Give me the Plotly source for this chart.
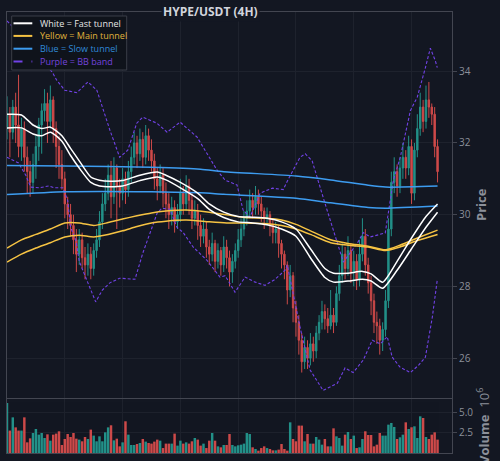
import plotly.graph_objects as go

# ---------------- data ----------------
idx = list(range(150))
opens = [32.4, 32.8, 32.3, 33.0, 32.5, 31.9, 32.4, 31.6, 31.2, 30.9,
         31.4, 31.9, 32.5, 32.9, 33.1, 32.6, 33.2, 32.4, 31.9, 31.4,
         31.0, 30.3, 30.0, 29.7, 29.3, 28.9, 29.3, 28.8, 28.6, 28.9,
         28.5, 29.0, 29.3, 29.8, 30.3, 30.6, 31.1, 30.5, 31.3, 30.8,
         30.6, 31.0, 30.7, 31.2, 31.6, 32.0, 31.7, 32.1, 31.6, 32.2,
         31.8, 31.5, 31.0, 30.8, 31.1, 30.6, 30.3, 30.0, 30.2, 29.8,
         30.0, 30.6, 30.3, 30.8, 30.4, 29.9, 30.1, 29.7, 29.4, 29.6,
         29.1, 28.9, 29.2, 28.7, 29.0, 28.6, 29.1, 28.8, 28.4, 28.7,
         29.0, 29.3, 29.6, 29.9, 30.1, 30.4, 30.2, 30.5, 30.3, 30.1,
         29.9, 30.0, 29.7, 29.5, 29.6, 29.2, 28.9, 28.6, 27.9, 28.3,
         27.4, 27.0, 26.5, 25.9, 26.3, 26.0, 26.4, 26.2, 26.7, 27.0,
         27.3, 27.1, 26.9, 27.2, 27.0, 27.8, 28.3, 28.9, 28.5, 29.0,
         28.4, 28.7, 28.2, 28.9, 29.4, 28.6, 28.1, 27.6, 27.0, 26.9,
         26.5, 26.8, 27.6, 29.6, 30.9, 31.2, 30.8, 31.3, 31.6, 31.3,
         31.9, 30.6, 31.8, 32.4, 33.0, 32.6, 33.2, 33.0, 32.8, 31.9]
closes = [32.8, 32.3, 33.0, 32.5, 31.9, 32.4, 31.6, 31.2, 30.9, 31.4,
          31.9, 32.5, 32.9, 33.1, 32.6, 33.2, 32.4, 31.9, 31.4, 31.0,
          30.3, 30.0, 29.7, 29.3, 28.9, 29.3, 28.8, 28.6, 28.9, 28.5,
          29.0, 29.3, 29.8, 30.3, 30.6, 31.1, 30.5, 31.3, 30.8, 30.6,
          31.0, 30.7, 31.2, 31.6, 32.0, 31.7, 32.1, 31.6, 32.2, 31.8,
          31.5, 31.0, 30.8, 31.1, 30.6, 30.3, 30.0, 30.2, 29.8, 30.0,
          30.6, 30.3, 30.8, 30.4, 29.9, 30.1, 29.7, 29.4, 29.6, 29.1,
          28.9, 29.2, 28.7, 29.0, 28.6, 29.1, 28.8, 28.4, 28.7, 29.0,
          29.3, 29.6, 29.9, 30.1, 30.4, 30.2, 30.5, 30.3, 30.1, 29.9,
          30.0, 29.7, 29.5, 29.6, 29.2, 28.9, 28.6, 27.9, 28.3, 27.4,
          27.0, 26.5, 25.9, 26.3, 26.0, 26.4, 26.2, 26.7, 27.0, 27.3,
          27.1, 26.9, 27.2, 27.0, 27.8, 28.3, 28.9, 28.5, 29.0, 28.4,
          28.7, 28.2, 28.9, 29.4, 28.6, 28.1, 27.6, 27.0, 26.9, 26.5,
          26.8, 27.6, 29.6, 30.9, 31.2, 30.8, 31.3, 31.6, 31.3, 31.9,
          30.6, 31.8, 32.4, 33.0, 32.6, 33.2, 33.0, 32.8, 31.9, 31.2]
highs = [33.3, 33.0, 33.2, 33.4, 33.9, 32.7, 32.6, 31.9, 31.5, 31.7,
         32.2, 32.7, 33.1, 33.5, 33.4, 33.6, 33.3, 32.6, 32.2, 31.8,
         31.2, 30.5, 30.3, 30.0, 29.6, 29.6, 29.5, 29.1, 29.2, 29.1,
         29.2, 29.6, 30.1, 30.6, 31.0, 31.4, 31.5, 31.6, 31.4, 31.0,
         31.3, 31.2, 31.5, 31.9, 32.3, 32.2, 32.4, 32.3, 32.5, 32.4,
         32.1, 31.7, 31.3, 31.4, 31.3, 30.9, 30.6, 30.5, 30.4, 30.3,
         31.0, 30.8, 31.1, 31.0, 30.6, 30.4, 30.3, 30.0, 29.9, 29.8,
         29.3, 29.5, 29.3, 29.2, 29.1, 29.4, 29.3, 29.0, 28.9, 29.2,
         29.6, 29.9, 30.1, 30.4, 30.7, 30.6, 30.8, 30.7, 30.5, 30.2,
         30.2, 30.1, 29.9, 29.8, 29.7, 29.3, 29.0, 28.7, 28.6, 28.4,
         27.6, 27.2, 26.7, 26.6, 26.5, 26.7, 26.6, 26.9, 27.2, 27.6,
         27.5, 27.4, 27.9, 27.4, 28.0, 28.6, 29.2, 29.1, 29.4, 29.2,
         29.0, 28.9, 29.3, 29.9, 29.6, 28.8, 28.3, 27.8, 27.3, 27.1,
         27.0, 27.9, 29.9, 31.2, 31.6, 31.4, 31.6, 32.0, 31.8, 32.2,
         32.1, 32.0, 32.8, 33.4, 33.2, 33.6, 33.7, 33.1, 33.0, 32.1]
lows = [32.1, 31.6, 32.1, 32.0, 31.6, 31.5, 31.2, 30.6, 30.5, 30.6,
        31.0, 31.5, 31.7, 32.6, 32.0, 32.4, 32.0, 31.3, 31.0, 30.7,
        29.9, 29.6, 29.4, 28.9, 28.4, 28.6, 28.5, 28.2, 28.3, 28.2,
        28.3, 28.8, 29.1, 29.6, 30.1, 30.4, 29.9, 30.3, 29.6, 30.2,
        30.4, 30.3, 30.5, 30.9, 31.4, 31.3, 31.5, 31.3, 31.4, 31.5,
        31.2, 30.7, 30.4, 30.6, 30.2, 29.9, 29.6, 29.7, 29.5, 29.6,
        29.8, 30.0, 30.1, 30.0, 29.6, 29.7, 29.3, 29.1, 29.2, 28.8,
        28.6, 28.7, 28.4, 28.5, 28.3, 28.4, 28.5, 28.0, 28.1, 28.5,
        28.8, 29.1, 29.4, 29.7, 29.9, 29.9, 30.0, 30.0, 29.8, 29.6,
        29.7, 29.4, 29.2, 29.2, 28.8, 28.5, 28.2, 27.5, 27.7, 27.0,
        26.6, 26.1, 25.6, 25.7, 25.7, 25.8, 25.9, 26.0, 26.5, 26.8,
        26.8, 26.7, 26.8, 26.7, 26.9, 27.6, 28.1, 28.2, 28.3, 28.1,
        28.0, 27.9, 28.0, 28.7, 28.3, 27.8, 27.2, 26.7, 26.4, 26.1,
        26.2, 26.6, 27.4, 29.4, 30.6, 30.5, 30.6, 31.0, 31.0, 31.1,
        30.3, 30.4, 31.6, 32.2, 32.3, 32.4, 32.7, 32.5, 31.6, 30.9]
volume_m = [6.25, 2.8, 4.45, 3.2, 2.8, 2.8, 4.45, 1.33, 1.83, 2.5,
            3.0, 2.29, 2.5, 1.87, 2.33, 1.54, 2.29, 2.42, 2.71, 1.0,
            1.75, 2.37, 2.0, 2.5, 1.79, 1.67, 1.46, 2.0, 1.75, 2.92,
            2.17, 1.46, 2.08, 1.46, 2.58, 3.2, 3.46, 1.58, 1.79, 0.83,
            1.33, 3.96, 2.29, 1.0, 1.0, 1.12, 1.25, 1.75, 1.42, 1.25,
            1.17, 1.42, 1.67, 1.54, 0.62, 1.17, 1.17, 1.17, 2.42, 0.92,
            1.54, 1.17, 1.33, 1.17, 1.46, 1.87, 1.67, 0.92, 1.17, 0.62,
            1.54, 2.5, 1.54, 0.83, 0.71, 1.0, 1.0, 2.37, 1.0, 0.83,
            0.96, 1.04, 1.17, 2.5, 2.37, 0.71, 0.5, 0.29, 0.62, 0.83,
            0.62, 0.5, 0.33, 0.33, 0.42, 1.12, 0.5, 0.29, 3.83, 1.75,
            1.46, 3.42, 3.42, 1.46, 2.37, 1.17, 1.17, 2.0, 1.67, 1.04,
            1.75, 0.83, 0.83, 3.08, 2.08, 1.87, 0.92, 2.29, 2.62, 1.75,
            2.17, 0.62, 0.71, 1.75, 2.71, 2.25, 2.25, 0.83, 1.04, 2.5,
            2.17, 2.17, 3.54, 3.75, 3.25, 1.75, 1.96, 2.29, 3.83, 3.0,
            3.21, 3.33, 1.87, 4.58, 4.37, 2.0, 1.75, 2.29, 2.58, 1.67]

fast_x = [0, 5, 9, 12, 15, 19, 22, 25, 29, 32, 36, 40, 46, 52, 55, 60, 66, 70, 75,
          80, 85, 90, 95, 100, 105, 110, 113, 118, 123, 126, 130, 135, 140, 145, 149]
fast_hi = [32.8, 32.78, 32.5, 32.4, 32.44, 32.2, 31.85, 31.5, 31.05, 30.96, 30.93, 30.95, 31.1, 31.19, 31.1, 30.9, 30.6, 30.3, 30.07,
           29.95, 29.93, 29.9, 29.8, 29.6, 29.05, 28.5, 28.37, 28.37, 28.42, 28.35, 28.12, 28.7, 29.35, 29.95, 30.3]
fast_lo = [32.42, 32.42, 32.25, 32.2, 32.3, 32.05, 31.65, 31.3, 30.9, 30.8, 30.78, 30.8, 30.95, 31.05, 30.97, 30.75, 30.45, 30.15, 29.92,
           29.8, 29.77, 29.72, 29.6, 29.4, 28.8, 28.25, 28.12, 28.15, 28.2, 28.15, 27.95, 28.45, 29.05, 29.65, 30.07]

main_x = [0, 5, 10, 15, 20, 25, 30, 35, 40, 45, 50, 55, 62, 70, 76, 82, 90, 95, 100, 105, 112, 118, 125, 131, 136, 142, 149]
main_hi = [29.07, 29.3, 29.45, 29.6, 29.77, 29.77, 29.7, 29.78, 29.88, 29.97, 30.05, 30.1, 30.13, 30.07, 30.0, 29.92, 29.9, 29.85,
           29.73, 29.55, 29.3, 29.2, 29.12, 29.02, 29.15, 29.35, 29.57]
main_lo = [28.68, 28.9, 29.07, 29.22, 29.38, 29.43, 29.38, 29.45, 29.55, 29.67, 29.77, 29.82, 29.85, 29.8, 29.77, 29.77, 29.75, 29.7,
           29.6, 29.45, 29.22, 29.15, 29.1, 29.0, 29.1, 29.28, 29.45]

slow_x = [0, 20, 50, 67, 75, 100, 112, 125, 131, 149]
slow_hi = [31.37, 31.36, 31.32, 31.27, 31.2, 31.08, 30.97, 30.82, 30.77, 30.8]
slow_lo = [30.56, 30.64, 30.64, 30.61, 30.57, 30.46, 30.33, 30.2, 30.18, 30.24]

bb_up_x = [0, 5, 10, 15.7, 17.2, 20, 24.2, 28, 31.1, 35.6, 39, 41.8, 44.9, 47, 51.9, 55.4, 59.9, 65.8, 72.7, 75.5, 79.6,
           81.7, 84.1, 87.6, 91.8, 95.6, 97.3, 101.4, 103.2, 105.6, 110.1, 112.9, 116.4, 121.2, 123.3, 125.7, 130.9,
           133.7, 136.1, 139.6, 142, 144.8, 146.5, 148.2, 148.9]
bb_up = [35.4, 35.0, 34.5, 33.97, 33.75, 33.47, 33.4, 33.7, 33.47, 32.36, 31.6, 31.8, 32.55, 32.72, 32.55, 32.3, 32.58, 32.16,
         31.24, 30.96, 30.83, 30.13, 29.93, 30.6, 30.74, 30.7, 30.98, 31.6, 31.7, 31.5, 30.3, 29.57, 28.68, 29.2, 29.5, 29.38,
         29.49, 30.96, 31.6, 32.9, 33.28, 34.1, 34.64, 34.3, 34.1]
bb_dn_x = [0, 4, 6.5, 8.2, 11, 14.5, 16.2, 19.3, 21, 22, 23.8, 25, 28, 30.7, 33, 35.6, 39, 44.3, 47, 50, 52, 53.6, 56.4,
           58.8, 61, 64.4, 69.2, 73.7, 75.5, 78.9, 82.4, 85.9, 89.3, 92.8, 96.3, 97, 98.5, 101.4, 104.9, 109.4, 114.3,
           117, 119.8, 123.3, 126.4, 129.2, 131.6, 133.3, 136, 139.6, 142.4, 144.8, 147.2, 148.9]
bb_dn = [31.6, 31.44, 31.1, 30.77, 30.75, 30.8, 30.75, 30.75, 30.4, 29.65, 29.3, 28.7, 28.1, 27.57, 27.9, 28.1, 28.23, 28.2,
         28.93, 29.6, 30.05, 30.18, 30.15, 29.65, 29.5, 29.1, 28.73, 28.26, 28.3, 27.84, 28.26, 28.12, 28.03, 28.2, 28.46,
         28.6, 27.98, 26.87, 25.67, 25.1, 25.3, 25.73, 25.6, 25.95, 26.5, 26.4, 26.6, 26.03, 25.75, 25.6, 25.8, 26.03,
         27.15, 28.18]

legend_labels = ["White = Fast tunnel", "Yellow = Main tunnel", "Blue = Slow tunnel", "Purple = BB band"]

# ---------------- style ----------------
BG = "#131722"
FRAME = "#434651"
GRID = "#1e222d"
TICK = "#8c909a"
UP = "#26a69a"
DN = "#ef5350"
WHITE = "#ffffff"
YELLOW = "#f6c343"
BLUE = "#3d9cf0"
PURPLE = "#7142e6"
FONT = "Open Sans"

W, H = 500, 461
ML, MR, MT, MB = 7, 48, 12, 8
PL, PR, PT, PB = ML, W - MR, MT, H - MB


def px_x(x):
    return (x - PL) / (PR - PL)


def px_y(y):
    return (PB - y) / (PB - PT)


fig = go.Figure()

fig.add_trace(go.Candlestick(
    x=idx, open=opens, high=highs, low=lows, close=closes,
    increasing=dict(line=dict(color=UP, width=1), fillcolor=UP),
    decreasing=dict(line=dict(color=DN, width=1), fillcolor=DN),
    whiskerwidth=0, opacity=0.85, xaxis="x", yaxis="y", showlegend=False,
))

vol_colors = [UP if c >= o else DN for o, c in zip(opens, closes)]
fig.add_trace(go.Bar(x=idx, y=volume_m, marker=dict(color=vol_colors, line=dict(width=0)),
                     opacity=0.85, xaxis="x2", yaxis="y2", showlegend=False))

line_specs = [
    (bb_up_x, bb_up, PURPLE, 1.1, "3px,2px", "linear"),
    (bb_dn_x, bb_dn, PURPLE, 1.1, "3px,2px", "linear"),
    (slow_x, slow_hi, BLUE, 1.5, "solid", "spline"),
    (slow_x, slow_lo, BLUE, 1.5, "solid", "spline"),
    (main_x, main_hi, YELLOW, 1.5, "solid", "spline"),
    (main_x, main_lo, YELLOW, 1.5, "solid", "spline"),
    (fast_x, fast_hi, WHITE, 1.5, "solid", "spline"),
    (fast_x, fast_lo, WHITE, 1.5, "solid", "spline"),
]
for xs, ys, col, wd, dash, shape in line_specs:
    fig.add_trace(go.Scatter(x=xs, y=ys, mode="lines",
                             line=dict(color=col, width=wd, dash=dash, shape=shape, smoothing=0.6),
                             xaxis="x", yaxis="y", showlegend=False, hoverinfo="skip"))

axis_common = dict(showline=True, mirror=True, linecolor=FRAME, linewidth=1,
                   gridcolor=GRID, zeroline=False)

fig.update_layout(
    width=W, height=H, autosize=False,
    margin=dict(l=ML, r=MR, t=MT, b=MB, pad=0),
    paper_bgcolor=BG, plot_bgcolor=BG,
    font=dict(family=FONT, color=TICK, size=10),
    showlegend=False, bargap=0.15,
    xaxis=dict(domain=[0, 1], anchor="y", range=[0, 154], tick0=0, dtick=20,
               showticklabels=False, ticks="", rangeslider=dict(visible=False),
               matches="x2", **axis_common),
    xaxis2=dict(domain=[0, 1], anchor="y2", range=[0, 154], tick0=0, dtick=20,
                showticklabels=False, ticks="", **axis_common),
    yaxis=dict(domain=[0.1255, 1], anchor="x", side="right", range=[24.9, 35.65],
               tick0=0, dtick=2, ticks="outside", ticklen=4, tickcolor=FRAME,
               tickfont=dict(size=10, color=TICK),
               title=dict(text="<b>Price</b>", font=dict(size=13, color=TICK), standoff=7),
               **axis_common),
    yaxis2=dict(domain=[0, 0.1235], anchor="x2", side="right", range=[0, 6.8],
                tickvals=[2.5, 5.0], ticktext=["2.5", "5.0"], ticks="outside", ticklen=4,
                tickcolor=FRAME, tickfont=dict(size=10, color=TICK),
                title=dict(text="<b>Volume</b>  10<sup>6</sup>", font=dict(size=13, color=TICK), standoff=7),
                **axis_common),
)

# title sitting on top frame line
fig.add_annotation(text="<b>HYPE/USDT (4H)</b>", xref="paper", yref="paper",
                   x=px_x(210), y=px_y(11.7), xanchor="center", yanchor="middle",
                   showarrow=False, font=dict(size=12, color="#d1d4dc", family=FONT),
                   bgcolor=BG, borderpad=1)

# custom legend box
fig.add_shape(type="rect", xref="paper", yref="paper",
              x0=px_x(11.7), x1=px_x(126.7), y0=px_y(70), y1=px_y(16),
              fillcolor="#0f131b", line=dict(color="#3a3e48", width=1), layer="above")
leg_rows = [23.3, 35.9, 48.7, 61.5]
leg_cols = [WHITE, YELLOW, BLUE, PURPLE]
leg_text_cols = ["#e6e6e6", "#e0b43c", "#2f8ad8", "#7443dc"]
leg_dash = ["solid", "solid", "solid", "dash"]
for lab, ry, lc, tc, ds in zip(legend_labels, leg_rows, leg_cols, leg_text_cols, leg_dash):
    fig.add_shape(type="line", xref="paper", yref="paper",
                  x0=px_x(13.5), x1=px_x(32.3), y0=px_y(ry), y1=px_y(ry),
                  line=dict(color=lc, width=2, dash=ds), layer="above")
    fig.add_annotation(text=lab, xref="paper", yref="paper", x=px_x(37.5), y=px_y(ry),
                       xanchor="left", yanchor="middle", showarrow=False,
                       font=dict(size=9, color=tc, family=FONT))

fig.write_html("out.html")
